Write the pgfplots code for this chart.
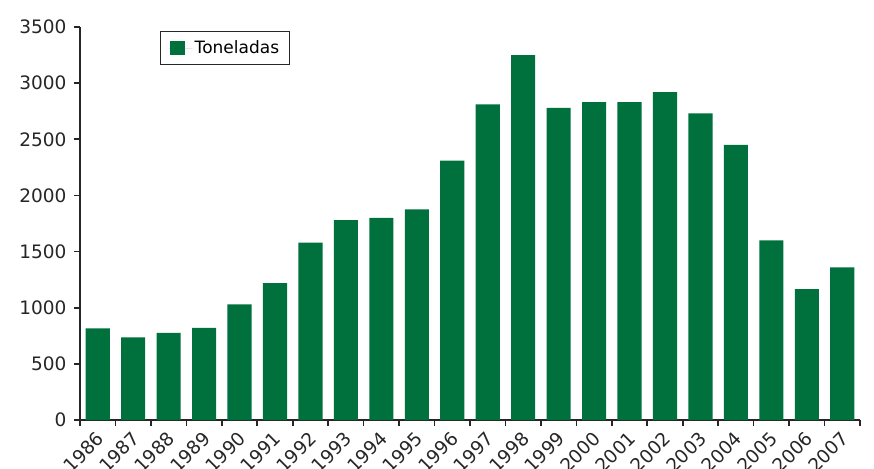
\documentclass[border=0pt]{standalone}
\usepackage{pgfplots}
\pgfplotsset{compat=1.18}
\usepackage{fontspec}
\setmainfont{DejaVu Sans}
\definecolor{bargreen}{RGB}{0,112,61}
\begin{document}
\begin{tikzpicture}
\begin{axis}[
  name=ax,
  scale only axis,
  width=780pt, height=393pt,
  xmin=-0.5, xmax=21.5,
  ymin=0, ymax=3500,
  axis lines*=left,
  axis line style={line width=1.6pt, black!85},
  ytick={0,500,...,3500},
  xtick={0,...,21},
  xticklabels={1986,1987,1988,1989,1990,1991,1992,1993,1994,1995,1996,1997,1998,1999,2000,2001,2002,2003,2004,2005,2006,2007},
  minor xtick={-0.5,0.5,...,21.5},
  major x tick style={draw=none},
  minor x tick style={line width=1.6pt, black!85},
  y tick style={line width=1.6pt, black!85},
  tick align=outside,
  major tick length=6pt, minor tick length=6pt,
  tick label style={font=\fontsize{18.5}{20}\selectfont, text=black!85},
  /pgf/number format/assume math mode=true,
  /pgf/number format/1000 sep={},
  yticklabel style={xshift=-4pt},
  xticklabel style={xshift=5pt, yshift=-7pt, rotate=45, anchor=east},
  ybar, bar width=0.68,
  legend style={at={(0.103,0.99)}, anchor=north west, draw=black!85, line width=0.8pt,
    font=\fontsize{17}{19}\selectfont, inner xsep=8pt, inner ysep=7.5pt},
  legend image code/.code={\fill[#1] (1pt,-7pt) rectangle (16pt,7pt); \path (0pt,0pt) -- (24pt,0pt);},
  clip=false,
]
\addplot[fill=bargreen, draw=none] coordinates {
(0,815) (1,735) (2,775) (3,820) (4,1030) (5,1220) (6,1580) (7,1780) (8,1800) (9,1875)
(10,2310) (11,2810) (12,3250) (13,2780) (14,2830) (15,2830) (16,2920) (17,2730)
(18,2450) (19,1600) (20,1165) (21,1360)};
\addlegendentry{Toneladas}
\end{axis}
\pgfresetboundingbox
\path (ax.south west) ++(-80pt,-48pt) coordinate (bl);
\path (ax.north east) ++(14pt,27pt) coordinate (tr);
\useasboundingbox (bl) rectangle (tr);
\end{tikzpicture}
\end{document}
